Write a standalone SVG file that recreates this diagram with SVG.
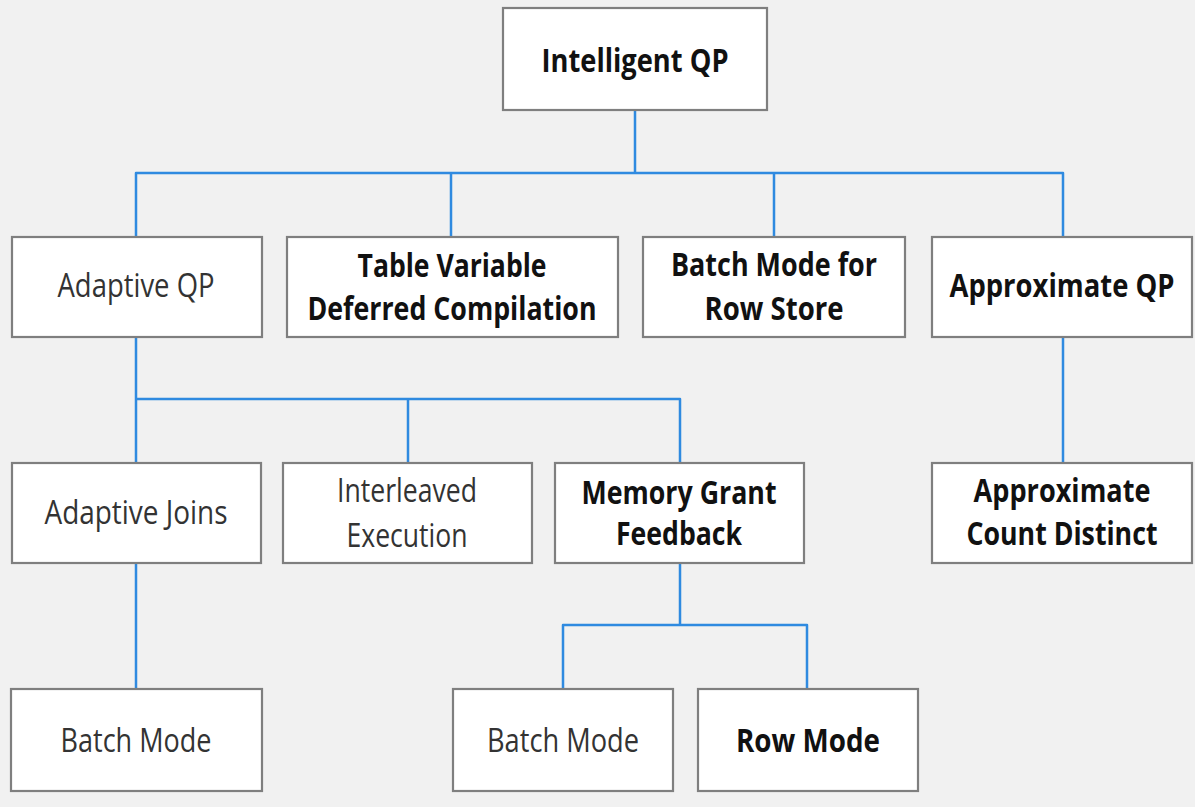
<svg xmlns="http://www.w3.org/2000/svg" width="1195" height="807" viewBox="0 0 1195 807">
<defs>
<style>
.box{fill:#ffffff;stroke:#7f7f7f;stroke-width:2.2}
.c{fill:none;stroke:#2f8ae0;stroke-width:2.5;stroke-linejoin:round;stroke-linecap:butt}
text{font-family:"Open Sans","Noto Sans","Liberation Sans",sans-serif;text-anchor:middle;font-size:32px}
.r{fill:#333333;font-weight:400}
.b{fill:#111111;font-weight:700}
</style>
</defs>
<rect x="0" y="0" width="1195" height="807" fill="#f1f1f1"/>
<g id="connectors">
<path class="c" d="M635,110 V173 M136,237 V173 H1063 V237 M451,173 V237 M774,173 V237"/>
<path class="c" d="M136,337 V463 M136,399 H680 V463 M408,399 V463"/>
<path class="c" d="M1063,337 V463"/>
<path class="c" d="M136,563 V689"/>
<path class="c" d="M680,563 V625 M563,689 V625 H807 V689"/>
</g>
<g id="n-intelligent-qp"><rect class="box" x="503" y="8" width="264" height="102"/><text class="b" x="635" y="72" font-size="34" textLength="187" lengthAdjust="spacingAndGlyphs">Intelligent QP</text></g>
<g id="n-adaptive-qp"><rect class="box" x="12" y="237" width="250" height="100"/><text class="r" x="136" y="297" textLength="157" lengthAdjust="spacingAndGlyphs">Adaptive QP</text></g>
<g id="n-table-variable"><rect class="box" x="287" y="237" width="331" height="100"/><text class="b" x="452" y="277" textLength="189" lengthAdjust="spacingAndGlyphs">Table Variable</text><text class="b" x="452" y="320" textLength="289" lengthAdjust="spacingAndGlyphs">Deferred Compilation</text></g>
<g id="n-batch-mode-row-store"><rect class="box" x="643" y="237" width="262" height="100"/><text class="b" x="774" y="276" textLength="206" lengthAdjust="spacingAndGlyphs">Batch Mode for</text><text class="b" x="774" y="320" textLength="139" lengthAdjust="spacingAndGlyphs">Row Store</text></g>
<g id="n-approximate-qp"><rect class="box" x="932" y="237" width="260" height="100"/><text class="b" x="1062" y="297" font-size="30" textLength="225" lengthAdjust="spacingAndGlyphs">Approximate QP</text></g>
<g id="n-adaptive-joins"><rect class="box" x="12" y="463" width="249" height="100"/><text class="r" x="136" y="524" textLength="183" lengthAdjust="spacingAndGlyphs">Adaptive Joins</text></g>
<g id="n-interleaved"><rect class="box" x="283" y="463" width="249" height="100"/><text class="r" x="407" y="502" textLength="140" lengthAdjust="spacingAndGlyphs">Interleaved</text><text class="r" x="407" y="547" textLength="121" lengthAdjust="spacingAndGlyphs">Execution</text></g>
<g id="n-memory-grant"><rect class="box" x="555" y="463" width="249" height="100"/><text class="b" x="679" y="504" textLength="195" lengthAdjust="spacingAndGlyphs">Memory Grant</text><text class="b" x="679" y="545" textLength="126" lengthAdjust="spacingAndGlyphs">Feedback</text></g>
<g id="n-approx-count-distinct"><rect class="box" x="932" y="463" width="260" height="100"/><text class="b" x="1062" y="502" textLength="177" lengthAdjust="spacingAndGlyphs">Approximate</text><text class="b" x="1062" y="545" textLength="191" lengthAdjust="spacingAndGlyphs">Count Distinct</text></g>
<g id="n-batch-mode-1"><rect class="box" x="11" y="689" width="251" height="102"/><text class="r" x="136" y="752" textLength="151" lengthAdjust="spacingAndGlyphs">Batch Mode</text></g>
<g id="n-batch-mode-2"><rect class="box" x="453" y="689" width="220" height="102"/><text class="r" x="563" y="752" textLength="152" lengthAdjust="spacingAndGlyphs">Batch Mode</text></g>
<g id="n-row-mode"><rect class="box" x="698" y="689" width="220" height="102"/><text class="b" x="808" y="752" textLength="144" lengthAdjust="spacingAndGlyphs">Row Mode</text></g>
</svg>
